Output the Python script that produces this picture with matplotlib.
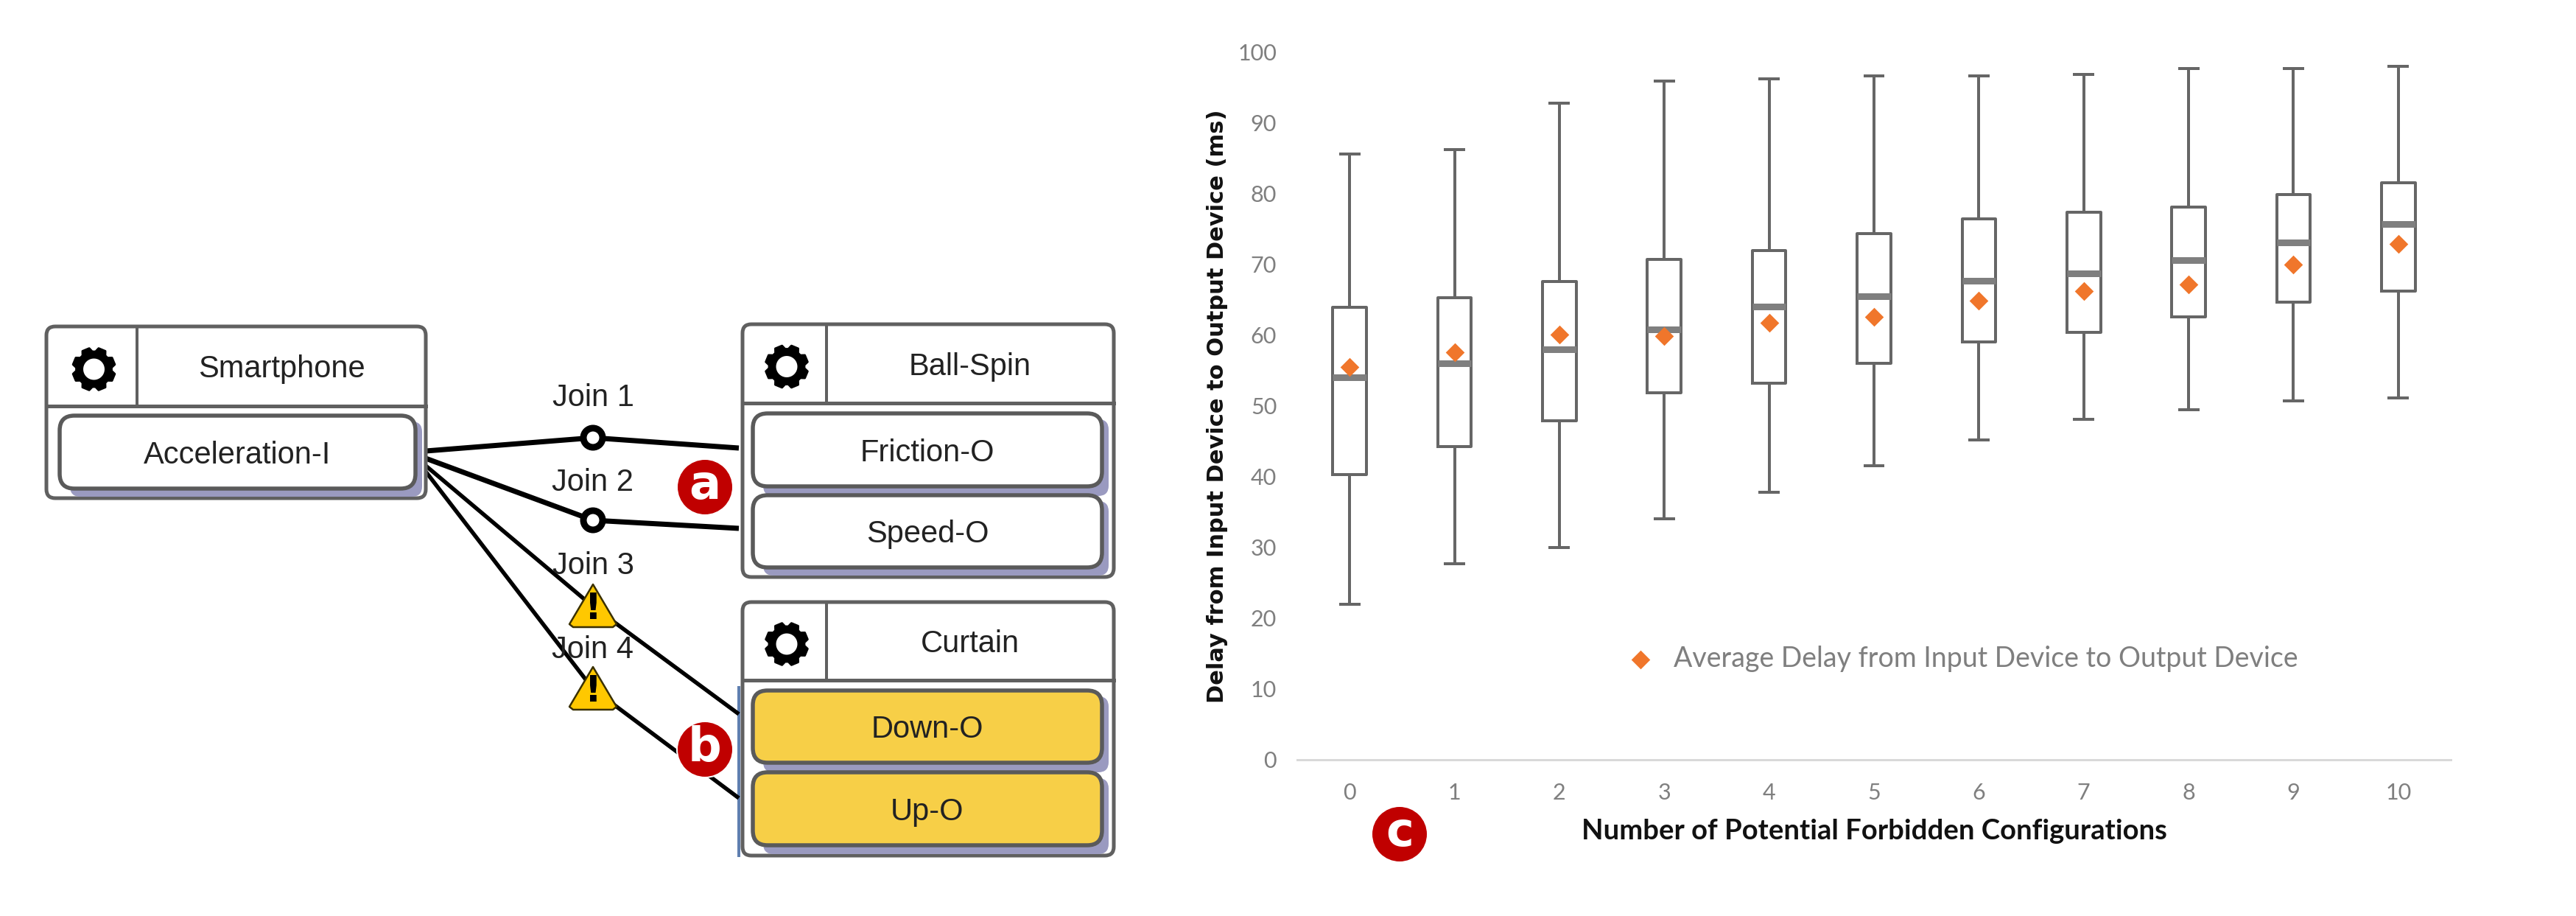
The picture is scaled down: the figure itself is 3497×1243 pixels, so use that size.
import numpy as np
import matplotlib
matplotlib.use('Agg')
import matplotlib.pyplot as plt
from matplotlib.patches import FancyBboxPatch, Polygon, Circle, PathPatch
from matplotlib.path import Path

# box plot values
configs = ['0', '1', '2', '3', '4', '5', '6', '7', '8', '9', '10']
whisker_low = [22, 27.7, 30, 34, 37.8, 41.5, 45.2, 48.1, 49.4, 50.7, 51.1]
q1 = [40.3, 44.2, 47.9, 51.8, 53.2, 56, 59, 60.4, 62.5, 64.6, 66.2]
medians = [54, 56, 58, 60.8, 64, 65.5, 67.6, 68.7, 70.5, 73.1, 75.7]
q3 = [63.9, 65.2, 67.5, 70.7, 71.9, 74.3, 76.4, 77.3, 78, 79.8, 81.5]
whisker_high = [85.5, 86.2, 92.7, 95.8, 96.2, 96.6, 96.6, 96.8, 97.6, 97.6, 97.9]
means = [55.5, 57.5, 60, 59.8, 61.7, 62.5, 64.8, 66.2, 67.1, 69.9, 72.8]

# diagram nodes: title, x0, x1, top, header bottom, bottom, ports, port x0, port x1
nodes = [
    ('Smartphone', 63, 578, 443, 551, 676, [('Acceleration-I', 564, 663, 'white')], 81, 564),
    ('Ball-Spin', 1008, 1512, 440, 547, 783,
     [('Friction-O', 561, 660, 'white'), ('Speed-O', 672, 770, 'white')], 1022, 1496),
    ('Curtain', 1008, 1512, 817, 923, 1161,
     [('Down-O', 937, 1035, '#F7CF47'), ('Up-O', 1048, 1147, '#F7CF47')], 1022, 1496),
]

W, H = 3498, 1243
PX = 72 / 100  # points per pixel
fig = plt.figure(figsize=(W / 100, H / 100), dpi=100, facecolor='white')

# ---- chart on the right ----
ax = fig.add_axes([1761 / W, 1 - 1031 / H, 1566 / W, 961 / H])
stats = []
for i in range(len(configs)):
    stats.append({'whislo': whisker_low[i], 'q1': q1[i], 'med': medians[i],
                  'q3': q3[i], 'whishi': whisker_high[i], 'label': configs[i]})
line = dict(color='#666666', linewidth=4 * PX)
ax.bxp(stats, positions=range(len(configs)), widths=0.32, capwidths=0.175,
       showfliers=False, boxprops=line, whiskerprops=line, capprops=line,
       medianprops=dict(color='#7f7f7f', linewidth=9 * PX, solid_capstyle='butt'))
ax.scatter(range(len(configs)), means, marker='D', s=170, color='#F0762B', zorder=5,
           linewidths=0, label='Average Delay from Input Device to Output Device')
ax.set_xlim(-0.5, 10.5)
ax.set_ylim(0, 100)
ax.set_yticks(range(0, 101, 10))
ax.tick_params(length=0)
ax.tick_params(axis='y', pad=20, labelsize=22, labelcolor='#7f7f7f')
ax.tick_params(axis='x', pad=22, labelsize=22, labelcolor='#7f7f7f')
for t in ax.get_xticklabels() + ax.get_yticklabels():
    t.set_family('Lato')
for s in ['top', 'right', 'left']:
    ax.spines[s].set_visible(False)
ax.spines['bottom'].set_color('#d9d9d9')
ax.spines['bottom'].set_linewidth(3 * PX)
ax.set_xlabel('Number of Potential Forbidden Configurations', family='Lato',
              fontweight='bold', fontsize=27.5, color='#111111', va='center')
ax.xaxis.set_label_coords(0.5, -0.101)
ax.set_ylabel('Delay from Input Device to Output Device (ms)', family='DejaVu Sans',
              fontweight='bold', fontsize=22, color='#111111', va='center')
ax.yaxis.set_label_coords(-0.0696, 0.4995)
ax.legend(loc='center left', bbox_to_anchor=(0.252, 0.143), frameon=False,
          handletextpad=0.2, labelcolor='#7f7f7f', prop={'family': 'Lato', 'size': 27})

# ---- diagram on the left, in pixel coordinates ----
ov = fig.add_axes([0, 0, 1, 1], zorder=10)
ov.set_xlim(0, W)
ov.set_ylim(H, 0)
ov.axis('off')
ov.patch.set_alpha(0)
TXT = dict(family='Liberation Sans', fontsize=30, color='#222222', ha='center', va='center')
DY = 4  # text sits a little under the middle of its box


def round_box(x0, y0, x1, y1, r, **kw):
    p = FancyBboxPatch((x0 + r, y0 + r), x1 - x0 - 2 * r, y1 - y0 - 2 * r,
                       boxstyle='round,pad=%d,rounding_size=%d' % (r, r), **kw)
    ov.add_patch(p)
    return p


def gear(cx, cy, r_out=29, r_root=24, r_hole=16, teeth=8):
    # outer outline with teeth, inner hole in the reverse direction
    angs, rads = [], []
    step = 2 * np.pi / teeth
    for k in range(teeth):
        a = k * step + step / 2
        for da, r in [(-0.3, r_root), (-0.17, r_out), (0.17, r_out), (0.3, r_root)]:
            angs.append(a + da)
            rads.append(r)
    outer = np.c_[cx + np.cos(angs) * np.array(rads), cy + np.sin(angs) * np.array(rads)]
    th = np.linspace(2 * np.pi, 0, 40)
    inner = np.c_[cx + r_hole * np.cos(th), cy + r_hole * np.sin(th)]
    verts = np.r_[outer, outer[:1], inner, inner[:1]]
    codes = ([Path.MOVETO] + [Path.LINETO] * (len(outer) - 1) + [Path.CLOSEPOLY]
             + [Path.MOVETO] + [Path.LINETO] * (len(inner) - 1) + [Path.CLOSEPOLY])
    ov.add_patch(PathPatch(Path(verts, codes), fc='black', ec='black', lw=3 * PX,
                           joinstyle='round', zorder=6))


# links first so the boxes and icons sit on top
thick = [([578, 805, 1003], [612, 594, 608]), ([578, 805, 1003], [622, 706, 717])]
thin = [([578, 805, 1003], [632, 823, 969]), ([578, 805, 1003], [640, 935, 1083])]
for xs, ys in thick:
    ov.plot(xs, ys, color='black', lw=7 * PX, solid_capstyle='butt', zorder=2)
for xs, ys in thin:
    ov.plot(xs, ys, color='black', lw=5.5 * PX, solid_capstyle='butt', zorder=2)
for cy in [594, 706]:
    ov.add_patch(Circle((805, cy), 13, fc='white', ec='black', lw=9 * PX, zorder=3))
for top in [793, 905]:
    ov.add_patch(Polygon([(805, top), (837, top + 54), (832, top + 58), (778, top + 58), (773, top + 54)],
                         closed=True, fc='#FFC800', ec='#3a3000', lw=2.5 * PX,
                         joinstyle='round', zorder=3))
    ov.text(805, top + 33, '!', family='DejaVu Sans', fontweight='bold', fontsize=36,
            color='black', ha='center', va='center', zorder=4)
for label, y in [('Join 1', 538), ('Join 2', 653), ('Join 3', 766), ('Join 4', 880)]:
    ov.text(805, y + 2, label, zorder=5, **TXT)

ov.plot([1003, 1003], [933, 1161], color='#5f7fb0', lw=4 * PX, zorder=1)

for title, x0, x1, top, head, bottom, ports, px0, px1 in nodes:
    round_box(x0, top, x1, bottom, 12, fc='white', ec='#606060', lw=5 * PX, zorder=3)
    ov.plot([x0, x1], [head, head], color='#606060', lw=5 * PX, zorder=4)
    split = x0 + 123 if x0 < 100 else x0 + 114
    ov.plot([split, split], [top, head], color='#606060', lw=4 * PX, zorder=4)
    gear((x0 + split) / 2 + 3, (top + head) / 2 + DY)
    ov.text((split + x1) / 2, (top + head) / 2 + DY, title, zorder=5, **TXT)
    for name, y0, y1, fill in ports:
        # lavender shadow under each port
        round_box(px0 + 14, y0 + 8, px1 + 9, min(y1 + 13, bottom - 2), 14, fc='#9a9ac0', ec='none', zorder=3.5)
        round_box(px0, y0, px1, y1, 20, fc=fill, ec='#5a5a5a', lw=5.5 * PX, zorder=4)
        ov.text((px0 + px1) / 2, (y0 + y1) / 2 + DY, name, zorder=5, **TXT)

for letter, cx, cy in [('a', 957, 661), ('b', 957, 1017), ('c', 1900, 1132)]:
    ov.add_patch(Circle((cx, cy), 38, fc='#C00000', ec='white', lw=2 * PX, zorder=7))
    ov.text(cx, cy - 2, letter, family='DejaVu Sans', fontweight='bold', fontsize=46,
            color='white', ha='center', va='center', zorder=8)

fig.savefig('out.png', dpi=100)
